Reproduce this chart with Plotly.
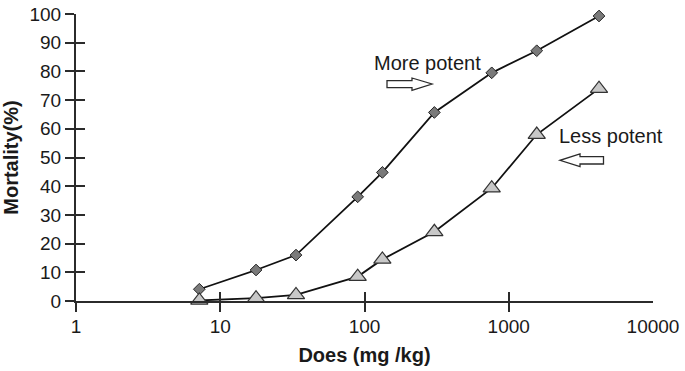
import plotly.graph_objects as go

# ---- data ----
dose = [7.16, 17.7, 33.5, 89.7, 133, 305, 762, 1563, 4224]
more_potent = [4.1, 10.8, 16.0, 36.3, 44.8, 65.7, 79.5, 87.2, 99.3]
less_potent = [0.2, 1.0, 2.1, 8.5, 14.5, 24.1, 39.3, 58.0, 74.0]
x_ticks = [1, 10, 100, 1000, 10000]
x_tick_labels = ["1", "10", "100", "1000", "10000"]
y_ticks = [0, 10, 20, 30, 40, 50, 60, 70, 80, 90, 100]

FONT = "Liberation Sans, Arial, Helvetica, sans-serif"
AX = "#2b2b2b"

W, H = 685, 371
# plot area in pixels: x 76..653, y 14..301
L, R, T, B = 76, W - 653, 14, H - 301
PW, PH = W - L - R, H - T - B


def px(xp, yp):
    """pixel -> paper coordinates"""
    return (xp - L) / PW, (H - B - yp) / PH


def path(points):
    pts = [px(a, b) for a, b in points]
    return "M" + " L".join(f"{a:.4f},{b:.4f}" for a, b in pts) + " Z"


fig = go.Figure()

fig.add_trace(go.Scatter(
    x=dose, y=more_potent, mode="lines+markers", name="More potent",
    line=dict(color="#111111", width=1.8),
    marker=dict(symbol="diamond", size=9, color="#7a7a7a",
                line=dict(color="#222222", width=1)),
    cliponaxis=False, showlegend=False))

fig.add_trace(go.Scatter(
    x=dose, y=less_potent, mode="lines+markers", name="Less potent",
    line=dict(color="#111111", width=1.8),
    marker=dict(symbol="triangle-up", size=15, color="#c8c8c8",
                line=dict(color="#333333", width=1.2)),
    cliponaxis=False, showlegend=False))

# empty traces to hold the overlay tick axes
fig.add_trace(go.Scatter(x=[], y=[], xaxis="x2", yaxis="y2", showlegend=False, hoverinfo="skip"))
fig.add_trace(go.Scatter(x=[], y=[], xaxis="x3", yaxis="y", showlegend=False, hoverinfo="skip"))

tickfont = dict(family=FONT, size=19, color="#1a1a1a")

fig.update_layout(
    width=W, height=H,
    margin=dict(l=L, r=R, t=T, b=B, autoexpand=False),
    plot_bgcolor="white", paper_bgcolor="white",
    font=dict(family=FONT, color="#1a1a1a"),
    xaxis=dict(
        type="log", range=[0, 4], tickvals=x_ticks, ticktext=x_tick_labels,
        ticks="outside", ticklen=7, tickcolor="rgba(0,0,0,0)", automargin=False,
        ticklabeloverflow="allow",
        showline=True, linecolor=AX, linewidth=2, showgrid=False, zeroline=False,
        tickfont=tickfont,
        title=dict(text="<b>Does (mg /kg)</b>", font=dict(family=FONT, size=20, color="#1a1a1a"), standoff=12),
    ),
    xaxis2=dict(
        type="log", range=[0, 4], overlaying="x", anchor="y", automargin=False,
        tickvals=x_ticks[1:], ticks="inside", ticklen=9, tickwidth=1.5, tickcolor=AX,
        showticklabels=False, showline=False, showgrid=False, zeroline=False,
    ),
    xaxis3=dict(
        type="log", range=[0, 4], overlaying="x", anchor="y", automargin=False,
        tickvals=x_ticks[:-1], ticks="outside", ticklen=10, tickwidth=1.5, tickcolor=AX,
        showticklabels=False, showline=False, showgrid=False, zeroline=False,
    ),
    yaxis=dict(
        range=[0, 100], tickvals=y_ticks, automargin=False,
        ticklabeloverflow="allow",
        ticks="outside", ticklen=9, tickwidth=1.5, tickcolor=AX,
        showline=True, linecolor=AX, linewidth=2, showgrid=False, zeroline=False,
        tickfont=tickfont,
        title=dict(text="<b>Mortality(%)</b>", font=dict(family=FONT, size=20, color="#1a1a1a"), standoff=6),
    ),
    yaxis2=dict(
        range=[0, 100], overlaying="y", anchor="x", automargin=False,
        tickvals=y_ticks, ticks="inside", ticklen=9, tickwidth=1.5, tickcolor=AX,
        showticklabels=False, showline=False, showgrid=False, zeroline=False,
    ),
)

# annotations
fig.add_annotation(text="More potent", xref="paper", yref="paper",
                   x=px(427, 63)[0], y=px(427, 63)[1], showarrow=False,
                   font=dict(family=FONT, size=20, color="#1a1a1a"),
                   xanchor="center", yanchor="middle")
fig.add_annotation(text="Less potent", xref="paper", yref="paper",
                   x=px(611, 136)[0], y=px(611, 136)[1], showarrow=False,
                   font=dict(family=FONT, size=20, color="#1a1a1a"),
                   xanchor="center", yanchor="middle")

# hollow block arrows
right_arrow = [(387, 80.7), (412, 80.7), (412, 78), (432, 84), (412, 90.3), (412, 87.7), (387, 87.7)]
left_arrow = [(603.5, 156.7), (580, 156.7), (580, 154), (560, 160.3), (580, 166.7), (580, 164), (603.5, 164)]
for pts in (right_arrow, left_arrow):
    fig.add_shape(type="path", xref="paper", yref="paper", path=path(pts),
                  line=dict(color="#2b2b2b", width=1.3), fillcolor="white")

fig.write_html("out.html",
               config={"displayModeBar": False},
               post_script="document.body.style.margin='0';document.body.style.overflow='hidden';")
